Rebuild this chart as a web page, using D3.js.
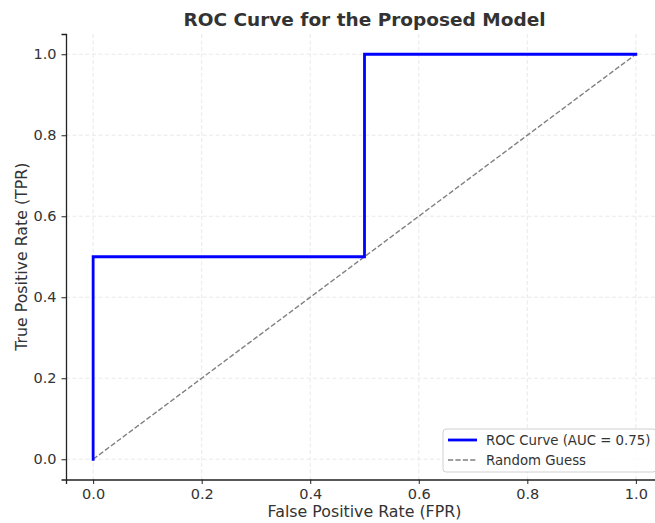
<!DOCTYPE html>
<html>
<head>
<meta charset="utf-8">
<script src="https://cdn.jsdelivr.net/npm/d3@7"></script>
<style>
  html, body { margin: 0; padding: 0; background: #fff; overflow: hidden; }
  svg { display: block; font-family: "DejaVu Sans", sans-serif; }
</style>
</head>
<body>
<svg id="chart" width="655" height="523"></svg>
<script>
// ---- data ----
const rocFPR = [0, 0, 0.5, 0.5, 1];
const rocTPR = [0, 0.5, 0.5, 1, 1];
const guessFPR = [0, 1];
const guessTPR = [0, 1];
const xTicks = [0, 0.2, 0.4, 0.6, 0.8, 1.0];
const yTicks = [0, 0.2, 0.4, 0.6, 0.8, 1.0];
const legendLabels = ["ROC Curve (AUC = 0.75)", "Random Guess"];
const titleText = "ROC Curve for the Proposed Model";
const xLabelText = "False Positive Rate (FPR)";
const yLabelText = "True Positive Rate (TPR)";

// ---- layout ----
const svg = d3.select("#chart");
const pLeft = 66, pRight = 663, pTop = 34, pBottom = 479.5;
const x = d3.scaleLinear().domain([-0.05, 1.05]).range([pLeft, pRight]);
const y = d3.scaleLinear().domain([-0.05, 1.05]).range([pBottom, pTop]);
const textColor = "#333";

// grid
const grid = svg.append("g");
grid.selectAll("line.gx").data(xTicks).enter().append("line")
  .attr("x1", d => x(d)).attr("x2", d => x(d))
  .attr("y1", pTop).attr("y2", pBottom)
  .attr("stroke", "#e6e6e6").attr("stroke-width", 0.9).attr("stroke-dasharray", "4,2.5");
grid.selectAll("line.gy").data(yTicks).enter().append("line")
  .attr("x1", pLeft).attr("x2", pRight)
  .attr("y1", d => y(d)).attr("y2", d => y(d))
  .attr("stroke", "#e6e6e6").attr("stroke-width", 0.9).attr("stroke-dasharray", "4,2.5");

// lines
const line = d3.line().x(d => x(d[0])).y(d => y(d[1]));
svg.append("path")
  .datum(guessFPR.map((v, i) => [v, guessTPR[i]]))
  .attr("d", line).attr("fill", "none")
  .attr("stroke", "#808080").attr("stroke-width", 1.4).attr("stroke-dasharray", "5.2,2.2");
svg.append("path")
  .datum(rocFPR.map((v, i) => [v, rocTPR[i]]))
  .attr("d", line).attr("fill", "none")
  .attr("stroke", "#0000ff").attr("stroke-width", 2.8)
  .attr("stroke-linejoin", "miter").attr("stroke-linecap", "square");

// axes
const xAxis = svg.append("g").attr("transform", `translate(0,${pBottom})`)
  .call(d3.axisBottom(x).tickValues(xTicks).tickFormat(d3.format(".1f")).tickSizeOuter(0).tickSize(4.5).tickPadding(5));
const yAxis = svg.append("g").attr("transform", `translate(${pLeft},0)`)
  .call(d3.axisLeft(y).tickValues(yTicks).tickFormat(d3.format(".1f")).tickSizeOuter(0).tickSize(4.5).tickPadding(5));
[xAxis, yAxis].forEach(a => {
  a.select(".domain").attr("stroke", "#222").attr("stroke-width", 1.3);
  a.selectAll(".tick line").attr("stroke", "#222").attr("stroke-width", 1);
  a.selectAll(".tick text").attr("fill", textColor).style("font-size", "14.5px")
    .style("font-family", "DejaVu Sans");
});

// title & labels
svg.append("text").attr("x", (pLeft + pRight) / 2).attr("y", 26)
  .attr("text-anchor", "middle").attr("fill", textColor)
  .style("font-size", "18.5px").style("font-weight", "bold").text(titleText);
svg.append("text").attr("x", (pLeft + pRight) / 2).attr("y", 517)
  .attr("text-anchor", "middle").attr("fill", textColor)
  .style("font-size", "15.8px").text(xLabelText);
svg.append("text").attr("transform", `translate(27,${(pTop + pBottom) / 2}) rotate(-90)`)
  .attr("text-anchor", "middle").attr("fill", textColor)
  .style("font-size", "15.8px").text(yLabelText);

// legend
const lg = svg.append("g");
lg.append("rect").attr("x", 443).attr("y", 429).attr("width", 213).attr("height", 43)
  .attr("rx", 3).attr("fill", "#fff").attr("fill-opacity", 0.85)
  .attr("stroke", "#d0d0d0").attr("stroke-width", 1);
const legendStyles = [
  {stroke: "#0000ff", width: 2.8, dash: null},
  {stroke: "#808080", width: 1.4, dash: "5.2,2.2"}
];
legendLabels.forEach((lab, i) => {
  const cy = 440 + i * 20;
  const s = legendStyles[i];
  const l = lg.append("line").attr("x1", 448).attr("x2", 477).attr("y1", cy).attr("y2", cy)
    .attr("stroke", s.stroke).attr("stroke-width", s.width);
  if (s.dash) l.attr("stroke-dasharray", s.dash);
  lg.append("text").attr("x", 486).attr("y", cy).attr("dy", "0.36em")
    .attr("fill", textColor).style("font-size", "13.3px").text(lab);
});
</script>
</body>
</html>
